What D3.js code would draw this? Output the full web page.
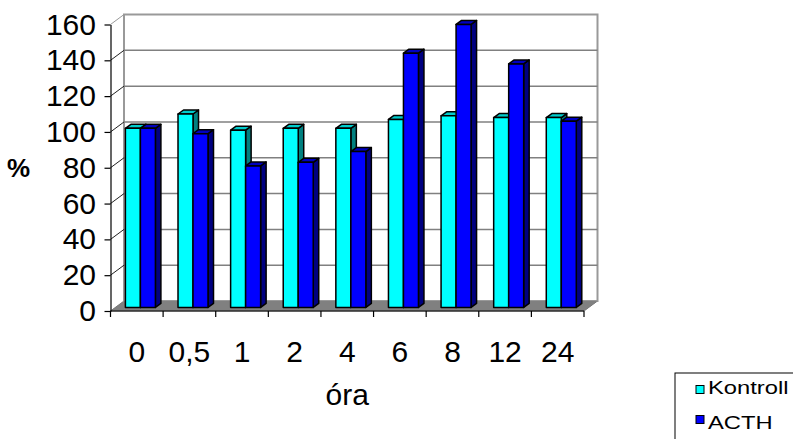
<!DOCTYPE html>
<html>
<head>
<meta charset="utf-8">
<script src="https://cdn.jsdelivr.net/npm/d3@7/dist/d3.min.js"></script>
<style>
  html, body { margin: 0; padding: 0; background: #fff; }
  svg { display: block; font-family: "Liberation Sans", Arial, sans-serif; }
</style>
</head>
<body>
<svg id="chart" width="793" height="439"></svg>
<script>
// Time points (hours) and relative values (%)
const categories = ["0", "0,5", "1", "2", "4", "6", "8", "12", "24"];
const kontroll = [100, 108, 99, 100, 100, 105, 107, 106, 106];
const acth = [100, 97, 79, 81, 87, 142, 158, 136, 104];
const seriesNames = ["Kontroll", "ACTH"];
const yTicks = [0, 20, 40, 60, 80, 100, 120, 140, 160];

const seriesValues = [kontroll, acth];
const colors = {
  Kontroll: { front: "#00FFFF", side: "#008080", top: "#00CCCC" },
  ACTH: { front: "#0000FF", side: "#000080", top: "#0000C0" }
};

const svg = d3.select("#chart");

// Front plane scales
const x = d3.scaleBand().domain(categories).range([110.5, 584]).padding(0);
const y = d3.scaleLinear().domain([0, 160]).range([311, 24.5]);
const sub = d3.scaleBand().domain(seriesNames).range([9.7, 39.7]).padding(0);

// Perspective offsets: full depth of the floor, bar placement depth, bar thickness
const DX = 13.5, DY = -10;
const FX = 5.2, FY = -3.6;
const BX = 5.5, BY = -4;

const x0 = x.range()[0], x1 = x.range()[1];

// Floor
svg.append("polygon")
  .attr("points", [[x0, y(0)], [x1, y(0)], [x1 + DX, y(0) + DY], [x0 + DX, y(0) + DY]].join(" "))
  .attr("fill", "#808080")
  .attr("stroke", "#606060")
  .attr("stroke-width", 0.8);

// Back wall
svg.append("rect")
  .attr("x", x0 + DX).attr("y", y(160) + DY)
  .attr("width", x1 - x0).attr("height", y(0) - y(160))
  .attr("fill", "#fff")
  .attr("stroke", "#999")
  .attr("stroke-width", 2);

// Gridlines on the back wall
svg.append("g").selectAll("line")
  .data(yTicks.filter(t => t > 0 && t < 160))
  .join("line")
  .attr("x1", x0 + DX).attr("x2", x1 + DX)
  .attr("y1", d => y(d) + DY).attr("y2", d => y(d) + DY)
  .attr("stroke", "#808080")
  .attr("stroke-width", 1.5);

// Diagonal gridlines across the left wall
svg.append("g").selectAll("line")
  .data(yTicks.filter(t => t > 0))
  .join("line")
  .attr("x1", x0).attr("x2", x0 + DX)
  .attr("y1", d => y(d)).attr("y2", d => y(d) + DY)
  .attr("stroke", d => d === 160 ? "#999" : "#222")
  .attr("stroke-width", 1);

// Redraw floor over wall bottom edge
svg.append("polygon")
  .attr("points", [[x0, y(0)], [x1, y(0)], [x1 + DX, y(0) + DY], [x0 + DX, y(0) + DY]].join(" "))
  .attr("fill", "#808080");

// 3D bars
const bars = svg.append("g");
categories.forEach((c, i) => {
  seriesNames.forEach((s, j) => {
    const v = seriesValues[j][i];
    const w = sub.bandwidth();
    const left = x(c) + sub(s) + FX;
    const right = left + w;
    const top = y(v) + FY;
    const bottom = y(0) + FY;
    const g = bars.append("g")
      .attr("stroke", "#000")
      .attr("stroke-width", 1.5)
      .attr("stroke-linejoin", "round");
    // side face
    g.append("polygon")
      .attr("points", [[right, bottom], [right + BX, bottom + BY], [right + BX, top + BY], [right, top]].join(" "))
      .attr("fill", colors[s].side);
    // top face
    g.append("polygon")
      .attr("points", [[left, top], [right, top], [right + BX, top + BY], [left + BX, top + BY]].join(" "))
      .attr("fill", colors[s].top);
    // front face
    g.append("rect")
      .attr("x", left).attr("y", top)
      .attr("width", w).attr("height", bottom - top)
      .attr("fill", colors[s].front);
  });
});

// Value axis
const yAxis = svg.append("g")
  .attr("transform", `translate(${x0},0)`)
  .call(d3.axisLeft(y).tickValues(yTicks).tickSize(6).tickPadding(8.5).tickSizeOuter(0));
yAxis.select(".domain").attr("stroke", "#000").attr("stroke-width", 1.2);
yAxis.selectAll(".tick line").attr("stroke", "#000").attr("stroke-width", 1.2);
yAxis.selectAll("text")
  .attr("font-size", 30)
  .attr("font-family", "'Liberation Sans', Arial, sans-serif")
  .attr("fill", "#000");

// Category axis: line with ticks at category boundaries, labels centred
const xAxis = svg.append("g").attr("transform", `translate(0,${y(0)})`);
xAxis.append("line")
  .attr("x1", x0).attr("x2", x1)
  .attr("stroke", "#000").attr("stroke-width", 1.2);
xAxis.selectAll("line.tk")
  .data(categories.map(c => x(c)).concat([x1]))
  .join("line")
  .attr("class", "tk")
  .attr("x1", d => d).attr("x2", d => d)
  .attr("y1", 0).attr("y2", 6)
  .attr("stroke", "#000").attr("stroke-width", 1.2);
xAxis.selectAll("text")
  .data(categories)
  .join("text")
  .attr("x", d => x(d) + x.bandwidth() / 2)
  .attr("y", 51)
  .attr("text-anchor", "middle")
  .attr("font-size", 30)
  .text(d => d);

// Axis titles
svg.append("text")
  .attr("x", 7).attr("y", 177)
  .attr("font-size", 26)
  .attr("font-weight", "bold")
  .text("%");
svg.append("text")
  .attr("x", (x0 + x1) / 2).attr("y", 405)
  .attr("text-anchor", "middle")
  .attr("font-size", 30)
  .text("óra");

// Legend
const legend = svg.append("g");
legend.append("rect")
  .attr("x", 675).attr("y", 373)
  .attr("width", 140).attr("height", 90)
  .attr("fill", "#fff")
  .attr("stroke", "#000")
  .attr("stroke-width", 1);
seriesNames.forEach((s, j) => {
  const ly = 385.5 + j * 30;
  legend.append("rect")
    .attr("x", 696).attr("y", ly)
    .attr("width", 8).attr("height", 8)
    .attr("fill", colors[s].front)
    .attr("stroke", "#000").attr("stroke-width", 1);
  legend.append("text")
    .attr("transform", `translate(708,${ly + 8 + j * 5}) scale(1.25,1)`)
    .attr("font-size", 19)
    .text(s);
});
</script>
</body>
</html>
